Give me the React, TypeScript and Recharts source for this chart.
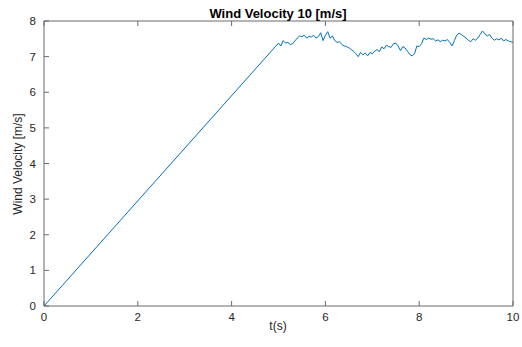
import React from 'react';
import { LineChart, Line, XAxis, YAxis } from 'recharts';

// Simulated wind speed: linear ramp-up for 5 s, then turbulent wind around 7.4 m/s
const timeSteps: number[] = [
  0, 5.0, 5.05, 5.1, 5.15, 5.2, 5.25, 5.3, 5.35, 5.4, 5.45, 5.5, 5.55, 5.6, 5.65, 5.7, 5.75, 5.8, 5.85, 5.9, 5.95,
  6.0, 6.05, 6.1, 6.15, 6.2, 6.25, 6.3, 6.35, 6.4, 6.45, 6.5, 6.55, 6.6, 6.65, 6.7, 6.75, 6.8, 6.85, 6.9, 6.95,
  7.0, 7.05, 7.1, 7.15, 7.2, 7.25, 7.3, 7.35, 7.4, 7.45, 7.5, 7.55, 7.6, 7.65, 7.7, 7.75, 7.8, 7.85, 7.9, 7.95,
  8.0, 8.05, 8.1, 8.15, 8.2, 8.25, 8.3, 8.35, 8.4, 8.45, 8.5, 8.55, 8.6, 8.65, 8.7, 8.75, 8.8, 8.85, 8.9, 8.95,
  9.0, 9.05, 9.1, 9.15, 9.2, 9.25, 9.3, 9.35, 9.4, 9.45, 9.5, 9.55, 9.6, 9.65, 9.7, 9.75, 9.8, 9.85, 9.9, 9.95, 10.0,
];

const windSpeed: number[] = [
  0, 7.38, 7.3, 7.45, 7.38, 7.4, 7.34, 7.36, 7.44, 7.52, 7.58, 7.56, 7.6, 7.52, 7.57, 7.55, 7.6, 7.52, 7.56, 7.67, 7.45,
  7.6, 7.7, 7.52, 7.58, 7.45, 7.4, 7.42, 7.34, 7.3, 7.28, 7.25, 7.2, 7.15, 7.08, 7.0, 7.12, 7.05, 7.1, 7.02, 7.12,
  7.08, 7.15, 7.2, 7.14, 7.27, 7.22, 7.32, 7.28, 7.26, 7.36, 7.38, 7.3, 7.17, 7.28, 7.24, 7.15, 7.06, 7.02, 7.08, 7.3,
  7.28, 7.36, 7.52, 7.48, 7.52, 7.49, 7.5, 7.44, 7.47, 7.42, 7.46, 7.44, 7.48, 7.4, 7.3, 7.45, 7.6, 7.66, 7.62, 7.57,
  7.52, 7.46, 7.42, 7.5, 7.46, 7.52, 7.62, 7.72, 7.64, 7.58, 7.62, 7.52, 7.46, 7.5, 7.47, 7.52, 7.44, 7.48, 7.44, 7.42, 7.4,
];

const xTicks: number[] = [0, 2, 4, 6, 8, 10];
const yTicks: number[] = [0, 1, 2, 3, 4, 5, 6, 7, 8];

const chartData = timeSteps.map((t, i) => ({ t, v: windSpeed[i] }));

const FONT = 'Liberation Sans, Arial, Helvetica, sans-serif';
const AXIS_COLOR = '#6b6b6b';
const TEXT_COLOR = '#262626';

export default function App() {
  const tickStyle = { fontSize: 11.5, fill: TEXT_COLOR, fontFamily: FONT };
  return (
    <div style={{ position: 'absolute', left: 0, top: 0, width: 522, height: 347, background: '#fff' }}>
      <LineChart
        width={522}
        height={347}
        data={chartData}
        margin={{ top: 21, right: 9, bottom: 11, left: 14 }}
      >
        <XAxis
          dataKey="t"
          type="number"
          domain={[0, 10]}
          ticks={xTicks}
          height={30}
          stroke={AXIS_COLOR}
          tickSize={-5}
          tickMargin={12}
          tick={tickStyle}
          interval={0}
        />
        <XAxis
          xAxisId="top"
          dataKey="t"
          type="number"
          domain={[0, 10]}
          ticks={xTicks}
          orientation="top"
          mirror
          height={1}
          stroke={AXIS_COLOR}
          tickSize={5}
          tickFormatter={() => ''}
        />
        <YAxis
          type="number"
          domain={[0, 8]}
          ticks={yTicks}
          width={30}
          stroke={AXIS_COLOR}
          tickSize={-5}
          tickMargin={13}
          tick={tickStyle}
          interval={0}
        />
        <YAxis
          yAxisId="right"
          type="number"
          domain={[0, 8]}
          ticks={yTicks}
          orientation="right"
          mirror
          width={1}
          stroke={AXIS_COLOR}
          tickSize={5}
          tickFormatter={() => ''}
        />
        <Line
          dataKey="v"
          stroke="#0072BD"
          strokeWidth={1}
          dot={false}
          isAnimationActive={false}
          type="linear"
        />
      </LineChart>
      <div
        style={{
          position: 'absolute', left: 44, width: 468, top: 6, textAlign: 'center',
          fontFamily: FONT, fontWeight: 'bold', fontSize: 13, color: '#000', lineHeight: '16px',
        }}
      >
        Wind Velocity 10 [m/s]
      </div>
      <div
        style={{
          position: 'absolute', left: 44, width: 468, top: 318, textAlign: 'center',
          fontFamily: FONT, fontSize: 12, color: TEXT_COLOR, lineHeight: '16px',
        }}
      >
        t(s)
      </div>
      <div
        style={{
          position: 'absolute', left: 18 - 80, top: 164 - 8, width: 160, height: 16, textAlign: 'center',
          fontFamily: FONT, fontSize: 12, color: TEXT_COLOR, lineHeight: '16px',
          transform: 'rotate(-90deg)', transformOrigin: '50% 50%',
        }}
      >
        Wind Velocity [m/s]
      </div>
    </div>
  );
}
